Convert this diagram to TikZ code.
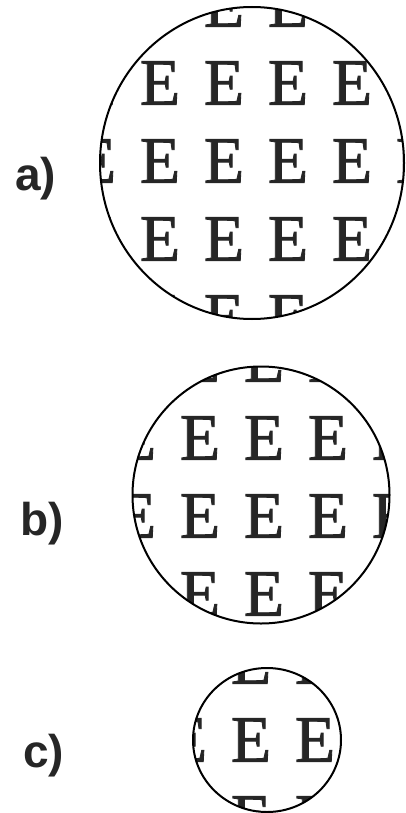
\documentclass[tikz,border=0pt]{standalone}
\usepackage{fontspec}
\setmainfont{Liberation Serif}
\newfontfamily\efont[FakeBold=1.3]{Liberation Serif}
\newfontfamily\labelfont{Liberation Sans}
\begin{document}
\begin{tikzpicture}[x=1pt,y=-1pt,
  letter/.style={inner sep=0pt, font=\efont\fontsize{66}{66}\selectfont, text=black!85},
  lens/.style={draw, line width=2pt},
  tag/.style={font=\labelfont\bfseries\fontsize{46}{46}\selectfont, inner sep=0pt, anchor=base west, text=black!85}]
\useasboundingbox (0,0) rectangle (405,813);
% a
\begin{scope}
  \clip (252,163) ellipse [x radius=152pt, y radius=156pt];
  \foreach \i in {0,...,6} \foreach \j in {0,...,4}
    \node[letter] (a-\i-\j) at (32+64*\i, 5+78*\j) {E};
\end{scope}
\draw[lens] (252,163) ellipse [x radius=152pt, y radius=156pt];
% b
\begin{scope}
  \clip (261,495) circle (128.5pt);
  \foreach \i in {0,...,6} \foreach \j in {0,...,4}
    \node[letter] (b-\i-\j) at (8+64*\i, 360+78*\j) {E};
\end{scope}
\draw[lens] (261,495) circle (128.5pt);
% c
\begin{scope}
  \clip (267,740) ellipse [x radius=74pt, y radius=72pt];
  \foreach \i in {0,...,4} \foreach \j in {0,...,2}
    \node[letter] (c-\i-\j) at (123+64*\i, 662+78*\j) {E};
\end{scope}
\draw[lens] (267,740) ellipse [x radius=74pt, y radius=72pt];
% labels
\node[tag] (la) at (15,190) {a)};
\node[tag] (lb) at (20,535) {b)};
\node[tag] (lc) at (23,767) {c)};
\end{tikzpicture}
\end{document}
